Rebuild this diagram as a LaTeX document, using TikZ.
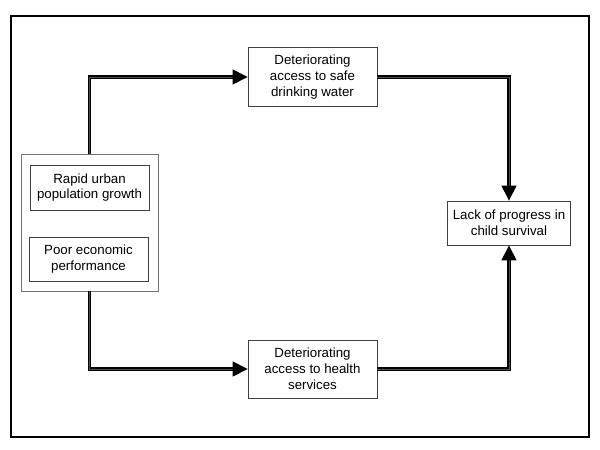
\documentclass[tikz,border=0pt]{standalone}
\usepackage{fontspec}
\setmainfont{Liberation Sans}
\usetikzlibrary{arrows.meta}
\begin{document}
\begin{tikzpicture}[x=1pt,y=-1pt,
  box/.style={draw=black!75, line width=0.8pt, fill=white, inner sep=0pt, align=center,
    font=\fontsize{13.3}{15.8}\selectfont},
  conn/.style={draw=black, line width=1.1pt, double=black!70, double distance=1pt,
    -{Triangle[length=15pt,width=15pt]}}]
\useasboundingbox (0,0) rectangle (600,450);
\draw[line width=1.6pt] (11,16) rectangle (589,437);
\node[draw=black!55, line width=0.8pt, minimum width=137pt, minimum height=137pt, inner sep=0pt] (group) at (89.5,222.5) {};
\node[box, minimum width=119pt, minimum height=45pt] (rapid) at (89.5,187.5) {Rapid urban\\population growth};
\node[box, minimum width=119pt, minimum height=44pt] (poor) at (88.5,259) {Poor economic\\performance};
\node[box, minimum width=129pt, minimum height=59pt] (top) at (312.5,77) {Deteriorating\\access to safe\\drinking water};
\node[box, minimum width=129pt, minimum height=58pt] (bottom) at (312.5,369) {Deteriorating\\access to health\\services};
\node[box, minimum width=123pt, minimum height=44pt] (right) at (509,223) {Lack of progress in\\child survival};
\draw[conn] (group.north) |- (top.west);
\draw[conn] (top.east) -| (right.north);
\draw[conn] (group.south) |- (bottom.west);
\draw[conn] (bottom.east) -| (right.south);
\end{tikzpicture}
\end{document}
